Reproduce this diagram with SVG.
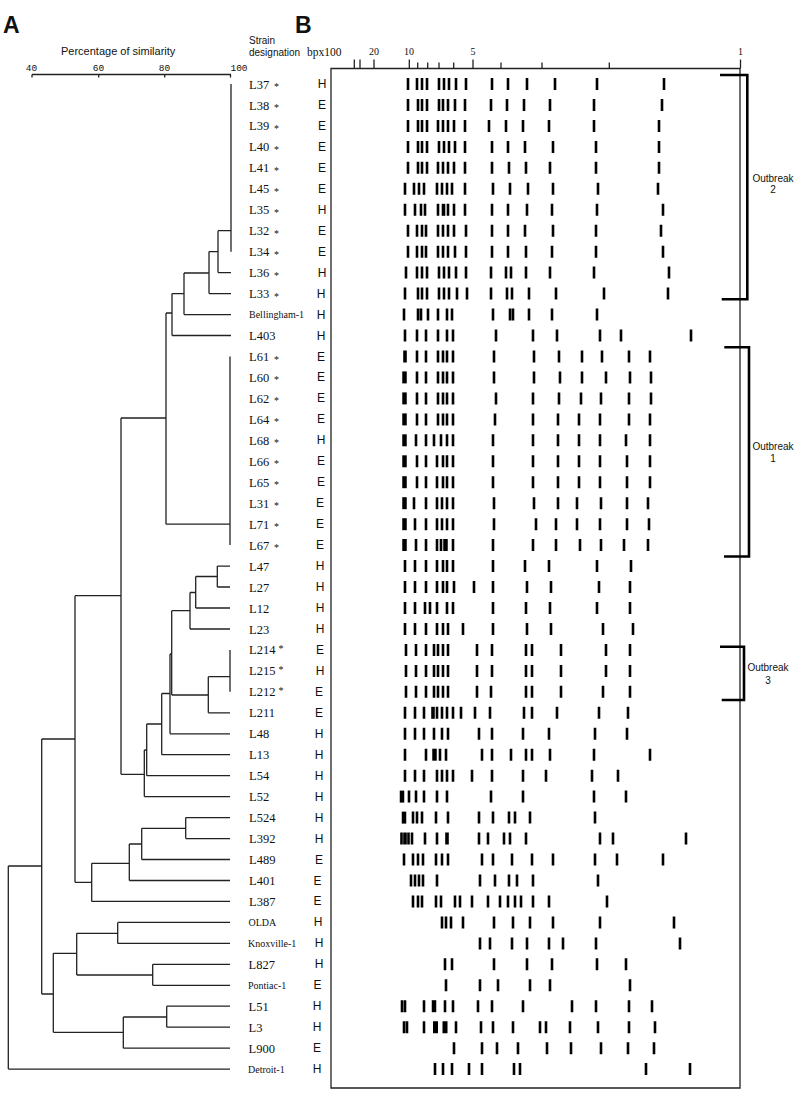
<svg xmlns="http://www.w3.org/2000/svg" width="800" height="1101" viewBox="0 0 800 1101">
<style>
text{fill:#111}
.big{font-family:"Liberation Sans",Arial,sans-serif;font-weight:bold;font-size:23px}
.hd{font-family:"Liberation Sans",Arial,sans-serif;font-size:10px}
.ttl{font-family:"Liberation Sans",Arial,sans-serif;font-size:11px}
.ax{font-family:"Liberation Mono","Courier New",monospace;font-size:9.5px;text-anchor:middle}
.gax{font-family:"Liberation Serif","Times New Roman",serif;font-size:10px;text-anchor:middle}
.bpx{font-family:"Liberation Serif","Times New Roman",serif;font-size:11.5px}
.lbl{font-family:"Liberation Serif","Times New Roman",serif;font-size:12.5px}
.sm{font-size:10px}
.st{font-size:10px}
.typ{font-family:"Liberation Sans",Arial,sans-serif;font-size:12px;text-anchor:middle}
.ob{font-family:"Liberation Sans",Arial,sans-serif;font-size:10px;text-anchor:middle}
.ln{fill:none;stroke:#222;stroke-width:1.3}
.bd{fill:none;stroke:#000;stroke-width:2.6}
.bdt{fill:none;stroke:#000;stroke-width:4.5}
.br{fill:none;stroke:#000;stroke-width:2.6}
</style>

<!-- headers -->
<text class="big" x="3" y="33">A</text>
<text class="big" x="295" y="33">B</text>
<text class="ttl" x="61" y="55">Percentage of similarity</text>
<text class="hd" x="249" y="44">Strain</text>
<text class="hd" x="249" y="56">designation</text>
<text class="bpx" x="307" y="55.5">bpx100</text>

<!-- similarity axis -->
<g id="axis-similarity">
<path class="ln" d="M32 74.5H231M32 74.5v3M98.7 74.5v3M164.7 74.5v3M230.5 74.5v3"/>
<text class="ax" x="31.5" y="71">40</text>
<text class="ax" x="98.5" y="71">60</text>
<text class="ax" x="164.5" y="71">80</text>
<text class="ax" x="239" y="71">100</text>
</g>

<!-- gel frame and size axis -->
<g id="gel-frame">
<path class="ln" d="M331 68.5H740V1088H331Z"/>
<path class="ln" d="M354.3 59.5v9M360 59.5v9M374 59.5v9M409.3 59.5v9M473 59.5v9M740.5 59.5v9M417.7 62.5v6M427.7 62.5v6M439 62.5v6M453.7 62.5v6M501 62.5v6M542 62.5v6M609.3 62.5v6"/>
<text class="gax" x="374" y="55">20</text>
<text class="gax" x="409" y="55">10</text>
<text class="gax" x="473" y="55">5</text>
<text class="gax" x="740.5" y="55">1</text>
</g>

<!-- dendrogram connectors -->
<g id="connectors">
<path class="ln" d="M231 84V251.7M218 230.7H231M218 272.6H231M218 230.7V272.6M209 251.6H218M209 293.6H231M209 251.6V293.6M184 273H209M184 314.6H231M184 273V314.6M172 293.6H184M172 335.5H231M172 293.6V335.5M166 313H172M166 313V524.2M230 356.5V545.1M166 524.2H230M121 418H166M121 418V774.3"/>
<path class="ln" d="M217.3 566.1V587M217.3 566.1H230M217.3 587H230M195.7 576.5H217.3M195.7 576.5V608M195.7 608H230M190 592.5H195.7M190 592.5V629M190 629H230M171.7 610.7H190M230 649.9V691.8M208.3 676.7H230M208.3 676.7V712.8M208.3 712.8H230M171.7 695H208.3M171.7 610.7V695M170 654H171.7M170 654V733.8M170 733.8H230M161.7 693.5H170M161.7 693.5V754.7M161.7 754.7H230M146.7 724H161.7M146.7 724V775.7M146.7 775.7H230M144.3 750H146.7M144.3 750V796.6M144.3 796.6H230M121 774.3H144.3"/>
<path class="ln" d="M75 595.7H121M75 595.7V882.3M185.7 817.6V838.6M185.7 817.6H230M185.7 838.6H230M141.7 828.3H185.7M141.7 828.3V859.5M141.7 859.5H230M129.3 844H141.7M129.3 844V880.5M129.3 880.5H230M91.7 863.3H129.3M91.7 863.3V901.4M91.7 901.4H230M75 882.3H91.7"/>
<path class="ln" d="M41.7 739H75M41.7 739V994M117.7 922.4V943.4M117.7 922.4H230M117.7 943.4H230M76.7 933.3H117.7M152.7 964.3V985.3M152.7 964.3H230M152.7 985.3H230M76.7 975H152.7M76.7 933.3V975M53.3 953.3H76.7M166.7 1006.2V1027.2M166.7 1006.2H230M166.7 1027.2H230M123.3 1017H166.7M123.3 1017V1048.2M123.3 1048.2H230M53.3 1032.3H123.3M53.3 953.3V1032.3M41.7 994H53.3M8.3 866H41.7M8.3 866V1069.1M8.3 1069.1H230"/>
</g>

<!-- outbreak brackets -->
<g id="outbreak-2">
<path class="br" d="M720 75H747.3V299.3H721.7"/>
<text class="ob" x="773" y="181.5">Outbreak</text>
<text class="ob" x="773" y="193">2</text>
</g>
<g id="outbreak-1">
<path class="br" d="M724.3 347.3H749V556.5H724"/>
<text class="ob" x="773" y="450">Outbreak</text>
<text class="ob" x="773" y="461.5">1</text>
</g>
<g id="outbreak-3">
<path class="br" d="M720 646.7H744V700H721.7"/>
<text class="ob" x="768" y="671">Outbreak</text>
<text class="ob" x="768" y="684">3</text>
</g>

<!-- strains -->
<g id="n-L37" transform="translate(0,84)"><text class="lbl" x="249" y="4.5">L37 <tspan class="st" x="274" y="6">*</tspan></text><text class="typ" x="322" y="4">H</text><path class="bd" d="M408-6v12M417-6v12M422-6v12M427-6v12M439-6v12M444-6v12M449-6v12M456-6v12M466-6v12M492-6v12M508-6v12M527-6v12M555-6v12M597-6v12M664-6v12"/></g>
<g id="n-L38" transform="translate(0,105)"><text class="lbl" x="249" y="4.5">L38 <tspan class="st" x="274" y="6">*</tspan></text><text class="typ" x="322" y="4">E</text><path class="bd" d="M408-6v12M418-6v12M422-6v12M427-6v12M439-6v12M443-6v12M448-6v12M455-6v12M465-6v12M491-6v12M507-6v12M524-6v12M550-6v12M594-6v12M662-6v12"/></g>
<g id="n-L39" transform="translate(0,125.9)"><text class="lbl" x="249" y="4.5">L39 <tspan class="st" x="274" y="6">*</tspan></text><text class="typ" x="322" y="4">E</text><path class="bd" d="M408-6v12M418-6v12M422-6v12M427-6v12M438-6v12M443-6v12M448-6v12M454-6v12M465-6v12M489-6v12M506-6v12M523-6v12M549-6v12M594-6v12M659-6v12"/></g>
<g id="n-L40" transform="translate(0,146.9)"><text class="lbl" x="249" y="4.5">L40 <tspan class="st" x="274" y="6">*</tspan></text><text class="typ" x="322" y="4">E</text><path class="bd" d="M408-6v12M418-6v12M422-6v12M427-6v12M439-6v12M444-6v12M449-6v12M455-6v12M465-6v12M492-6v12M508-6v12M525-6v12M553-6v12M596-6v12M659-6v12"/></g>
<g id="n-L41" transform="translate(0,167.8)"><text class="lbl" x="249" y="4.5">L41 <tspan class="st" x="274" y="6">*</tspan></text><text class="typ" x="322" y="4">E</text><path class="bd" d="M408-6v12M418-6v12M422-6v12M427-6v12M438-6v12M443-6v12M448-6v12M454-6v12M465-6v12M492-6v12M509-6v12M526-6v12M550-6v12M596-6v12M659-6v12"/></g>
<g id="n-L45" transform="translate(0,188.8)"><text class="lbl" x="249" y="4.5">L45 <tspan class="st" x="274" y="6">*</tspan></text><text class="typ" x="322" y="4">E</text><path class="bd" d="M405-6v12M414-6v12M419-6v12M424-6v12M437-6v12M442-6v12M447-6v12M452-6v12M465-6v12M493-6v12M510-6v12M528-6v12M553-6v12M598-6v12M658-6v12"/></g>
<g id="n-L35" transform="translate(0,209.8)"><text class="lbl" x="249" y="4.5">L35 <tspan class="st" x="274" y="6">*</tspan></text><text class="typ" x="322" y="4">H</text><path class="bd" d="M405-6v12M415-6v12M421-6v12M425-6v12M438-6v12M448-6v12M454-6v12M465-6v12M492-6v12M508-6v12M527-6v12M552-6v12M597-6v12M663-6v12"/><path class="bdt" d="M443.5-6v12" style="stroke-width:3.6"/></g>
<g id="n-L32" transform="translate(0,230.7)"><text class="lbl" x="249" y="4.5">L32 <tspan class="st" x="274" y="6">*</tspan></text><text class="typ" x="322" y="4">E</text><path class="bd" d="M408-6v12M417-6v12M422-6v12M426-6v12M438-6v12M443-6v12M448-6v12M454-6v12M466-6v12M492-6v12M508-6v12M525-6v12M553-6v12M596-6v12M661-6v12"/></g>
<g id="n-L34" transform="translate(0,251.7)"><text class="lbl" x="249" y="4.5">L34 <tspan class="st" x="274" y="6">*</tspan></text><text class="typ" x="322" y="4">E</text><path class="bd" d="M408-6v12M417-6v12M422-6v12M426-6v12M438-6v12M443-6v12M448-6v12M455-6v12M466-6v12M492-6v12M508-6v12M526-6v12M552-6v12M596-6v12M663-6v12"/></g>
<g id="n-L36" transform="translate(0,272.6)"><text class="lbl" x="249" y="4.5">L36 <tspan class="st" x="274" y="6">*</tspan></text><text class="typ" x="322" y="4">H</text><path class="bd" d="M406-6v12M417-6v12M422-6v12M427-6v12M439-6v12M444-6v12M449-6v12M456-6v12M466-6v12M491-6v12M506-6v12M511-6v12M526-6v12M550-6v12M594-6v12M669-6v12"/></g>
<g id="n-L33" transform="translate(0,293.6)"><text class="lbl" x="249" y="4.5">L33 <tspan class="st" x="274" y="6">*</tspan></text><text class="typ" x="321" y="4">H</text><path class="bd" d="M405-6v12M418-6v12M422-6v12M427-6v12M439-6v12M444-6v12M449-6v12M457-6v12M467-6v12M491-6v12M507-6v12M512-6v12M529-6v12M556-6v12M604-6v12M668-6v12"/></g>
<g id="n-Bellingham-1" transform="translate(0,314.6)"><text class="lbl sm" x="249" y="3.5">Bellingham-1</text><text class="typ" x="321" y="4">H</text><path class="bd" d="M404-6v12M418-6v12M421-6v12M428-6v12M438-6v12M447-6v12M452-6v12M493-6v12M510-6v12M513-6v12M529-6v12M552-6v12M597-6v12"/></g>
<g id="n-L403" transform="translate(0,335.5)"><text class="lbl" x="249" y="4.5">L403</text><text class="typ" x="321" y="4">H</text><path class="bd" d="M405-6v12M417-6v12M426-6v12M438-6v12M447-6v12M453-6v12M496-6v12M533-6v12M557-6v12M600-6v12M621-6v12M691-6v12"/></g>
<g id="n-L61" transform="translate(0,356.5)"><text class="lbl" x="249" y="4.5">L61 <tspan class="st" x="274" y="6">*</tspan></text><text class="typ" x="321" y="4">E</text><path class="bd" d="M417-6v12M426-6v12M438-6v12M443-6v12M447-6v12M453-6v12M494-6v12M534-6v12M559-6v12M582-6v12M602-6v12M629-6v12M650-6v12"/><path class="bdt" d="M405-6v12" style="stroke-width:3.6"/></g>
<g id="n-L60" transform="translate(0,377.4)"><text class="lbl" x="249" y="4.5">L60 <tspan class="st" x="274" y="6">*</tspan></text><text class="typ" x="321" y="4">E</text><path class="bd" d="M417-6v12M426-6v12M438-6v12M443-6v12M447-6v12M453-6v12M494-6v12M534-6v12M560-6v12M582-6v12M606-6v12M630-6v12M651-6v12"/><path class="bdt" d="M404.5-6v12"/></g>
<g id="n-L62" transform="translate(0,398.4)"><text class="lbl" x="249" y="4.5">L62 <tspan class="st" x="274" y="6">*</tspan></text><text class="typ" x="321" y="4">E</text><path class="bd" d="M417-6v12M426-6v12M438-6v12M443-6v12M447-6v12M453-6v12M496-6v12M533-6v12M559-6v12M581-6v12M601-6v12M629-6v12M651-6v12"/><path class="bdt" d="M404.5-6v12"/></g>
<g id="n-L64" transform="translate(0,419.4)"><text class="lbl" x="249" y="4.5">L64 <tspan class="st" x="274" y="6">*</tspan></text><text class="typ" x="321" y="4">E</text><path class="bd" d="M417-6v12M426-6v12M438-6v12M443-6v12M447-6v12M453-6v12M495-6v12M533-6v12M558-6v12M579-6v12M600-6v12M629-6v12M650-6v12"/><path class="bdt" d="M404.5-6v12"/></g>
<g id="n-L68" transform="translate(0,440.3)"><text class="lbl" x="249" y="4.5">L68 <tspan class="st" x="274" y="6">*</tspan></text><text class="typ" x="321" y="4">H</text><path class="bd" d="M416-6v12M426-6v12M434-6v12M441-6v12M447-6v12M453-6v12M493-6v12M533-6v12M558-6v12M579-6v12M600-6v12M626-6v12M650-6v12"/><path class="bdt" d="M404.5-6v12"/></g>
<g id="n-L66" transform="translate(0,461.3)"><text class="lbl" x="249" y="4.5">L66 <tspan class="st" x="274" y="6">*</tspan></text><text class="typ" x="321" y="4">E</text><path class="bd" d="M417-6v12M426-6v12M437-6v12M443-6v12M447-6v12M453-6v12M493-6v12M533-6v12M558-6v12M579-6v12M600-6v12M627-6v12M650-6v12"/><path class="bdt" d="M404.5-6v12"/></g>
<g id="n-L65" transform="translate(0,482.2)"><text class="lbl" x="249" y="4.5">L65 <tspan class="st" x="274" y="6">*</tspan></text><text class="typ" x="321" y="4">E</text><path class="bd" d="M417-6v12M426-6v12M437-6v12M443-6v12M447-6v12M453-6v12M493-6v12M533-6v12M558-6v12M579-6v12M600-6v12M627-6v12M650-6v12"/><path class="bdt" d="M404.5-6v12"/></g>
<g id="n-L31" transform="translate(0,503.2)"><text class="lbl" x="249" y="4.5">L31 <tspan class="st" x="274" y="6">*</tspan></text><text class="typ" x="320" y="4">E</text><path class="bd" d="M414-6v12M426-6v12M437-6v12M442-6v12M447-6v12M453-6v12M494-6v12M534-6v12M558-6v12M577-6v12M601-6v12M627-6v12M648-6v12"/><path class="bdt" d="M404.5-6v12"/></g>
<g id="n-L71" transform="translate(0,524.2)"><text class="lbl" x="249" y="4.5">L71 <tspan class="st" x="274" y="6">*</tspan></text><text class="typ" x="320" y="4">E</text><path class="bd" d="M415-6v12M426-6v12M437-6v12M442-6v12M447-6v12M453-6v12M494-6v12M536-6v12M556-6v12M577-6v12M600-6v12M627-6v12M649-6v12"/><path class="bdt" d="M404.5-6v12"/></g>
<g id="n-L67" transform="translate(0,545.1)"><text class="lbl" x="249" y="4.5">L67 <tspan class="st" x="274" y="6">*</tspan></text><text class="typ" x="320" y="4">E</text><path class="bd" d="M416-6v12M426-6v12M437-6v12M441-6v12M453-6v12M493-6v12M533-6v12M556-6v12M580-6v12M601-6v12M624-6v12M648-6v12"/><path class="bdt" d="M404.5-6v12M445.5-6v12"/></g>
<g id="n-L47" transform="translate(0,566.1)"><text class="lbl" x="249" y="4.5">L47</text><text class="typ" x="320" y="4">H</text><path class="bd" d="M405-6v12M415-6v12M426-6v12M437-6v12M443-6v12M447-6v12M453-6v12M493-6v12M525-6v12M549-6v12M597-6v12M631-6v12"/></g>
<g id="n-L27" transform="translate(0,587)"><text class="lbl" x="249" y="4.5">L27</text><text class="typ" x="320" y="4">H</text><path class="bd" d="M405-6v12M415-6v12M426-6v12M437-6v12M443-6v12M447-6v12M454-6v12M474-6v12M493-6v12M527-6v12M551-6v12M599-6v12M630-6v12"/></g>
<g id="n-L12" transform="translate(0,608)"><text class="lbl" x="249" y="4.5">L12</text><text class="typ" x="320" y="4">H</text><path class="bd" d="M405-6v12M415-6v12M425-6v12M430-6v12M437-6v12M447-6v12M453-6v12M493-6v12M526-6v12M550-6v12M597-6v12M630-6v12"/></g>
<g id="n-L23" transform="translate(0,629)"><text class="lbl" x="249" y="4.5">L23</text><text class="typ" x="320" y="4">H</text><path class="bd" d="M405-6v12M415-6v12M426-6v12M437-6v12M443-6v12M448-6v12M463-6v12M493-6v12M527-6v12M551-6v12M603-6v12M633-6v12"/></g>
<g id="n-L214" transform="translate(0,649.9)"><text class="lbl" x="249" y="4.5">L214<tspan class="st" x="278.5" y="2">*</tspan></text><text class="typ" x="320" y="4">E</text><path class="bd" d="M406-6v12M416-6v12M426-6v12M434-6v12M438-6v12M443-6v12M448-6v12M477-6v12M492-6v12M526-6v12M532-6v12M561-6v12M606-6v12M630-6v12"/></g>
<g id="n-L215" transform="translate(0,670.9)"><text class="lbl" x="249" y="4.5">L215<tspan class="st" x="278.5" y="2">*</tspan></text><text class="typ" x="320" y="4">H</text><path class="bd" d="M406-6v12M416-6v12M426-6v12M434-6v12M438-6v12M443-6v12M448-6v12M477-6v12M492-6v12M526-6v12M532-6v12M561-6v12M606-6v12M630-6v12"/></g>
<g id="n-L212" transform="translate(0,691.8)"><text class="lbl" x="249" y="4.5">L212<tspan class="st" x="278.5" y="2">*</tspan></text><text class="typ" x="319" y="4">E</text><path class="bd" d="M406-6v12M416-6v12M426-6v12M434-6v12M438-6v12M443-6v12M448-6v12M477-6v12M491-6v12M526-6v12M532-6v12M561-6v12M603-6v12M630-6v12"/></g>
<g id="n-L211" transform="translate(0,712.8)"><text class="lbl" x="249" y="4.5">L211</text><text class="typ" x="319" y="4">E</text><path class="bd" d="M405-6v12M415-6v12M424-6v12M437-6v12M442-6v12M447-6v12M453-6v12M461-6v12M475-6v12M490-6v12M524-6v12M532-6v12M557-6v12M599-6v12M628-6v12"/><path class="bdt" d="M433-6v12" style="stroke-width:3.6"/></g>
<g id="n-L48" transform="translate(0,733.8)"><text class="lbl" x="249" y="4.5">L48</text><text class="typ" x="319" y="4">H</text><path class="bd" d="M405-6v12M415-6v12M424-6v12M434-6v12M442-6v12M448-6v12M479-6v12M492-6v12M523-6v12M549-6v12M595-6v12M627-6v12"/></g>
<g id="n-L13" transform="translate(0,754.7)"><text class="lbl" x="249" y="4.5">L13</text><text class="typ" x="319" y="4">H</text><path class="bd" d="M405-6v12M426-6v12M440-6v12M446-6v12M482-6v12M492-6v12M511-6v12M526-6v12M532-6v12M550-6v12M594-6v12M650-6v12"/><path class="bdt" d="M434.5-6v12"/></g>
<g id="n-L54" transform="translate(0,775.7)"><text class="lbl" x="249" y="4.5">L54</text><text class="typ" x="319" y="4">H</text><path class="bd" d="M405-6v12M415-6v12M424-6v12M437-6v12M442-6v12M447-6v12M453-6v12M472-6v12M492-6v12M523-6v12M546-6v12M592-6v12M618-6v12"/></g>
<g id="n-L52" transform="translate(0,796.6)"><text class="lbl" x="249" y="4.5">L52</text><text class="typ" x="319" y="4">H</text><path class="bd" d="M409-6v12M416-6v12M424-6v12M437-6v12M447-6v12M491-6v12M523-6v12M594-6v12M626-6v12"/><path class="bdt" d="M402-6v12"/></g>
<g id="n-L524" transform="translate(0,817.6)"><text class="lbl" x="249" y="4.5">L524</text><text class="typ" x="319" y="4">H</text><path class="bd" d="M413-6v12M417-6v12M422-6v12M436-6v12M448-6v12M479-6v12M493-6v12M509-6v12M515-6v12M530-6v12M595-6v12"/><path class="bdt" d="M404-6v12"/></g>
<g id="n-L392" transform="translate(0,838.6)"><text class="lbl" x="249" y="4.5">L392</text><text class="typ" x="319" y="4">H</text><path class="bd" d="M401.5-6v12M408.5-6v12M412-6v12M425-6v12M437-6v12M479-6v12M488-6v12M504-6v12M510-6v12M526-6v12M600-6v12M613-6v12M686-6v12"/><path class="bdt" d="M405-6v12M447-6v12" style="stroke-width:3.6"/></g>
<g id="n-L489" transform="translate(0,859.5)"><text class="lbl" x="249" y="4.5">L489</text><text class="typ" x="319" y="4">E</text><path class="bd" d="M404-6v12M413-6v12M418-6v12M423-6v12M436-6v12M442-6v12M448-6v12M482-6v12M493-6v12M512-6v12M532-6v12M553-6v12M595-6v12M617-6v12M663-6v12"/></g>
<g id="n-L401" transform="translate(0,880.5)"><text class="lbl" x="249" y="4.5">L401</text><text class="typ" x="317.5" y="4">E</text><path class="bd" d="M411-6v12M415-6v12M419-6v12M423-6v12M437-6v12M480-6v12M495-6v12M509-6v12M517-6v12M533-6v12M598-6v12"/></g>
<g id="n-L387" transform="translate(0,901.4)"><text class="lbl" x="249" y="4.5">L387</text><text class="typ" x="317.5" y="4">E</text><path class="bd" d="M413-6v12M418-6v12M422-6v12M436-6v12M441-6v12M455-6v12M460-6v12M472-6v12M488-6v12M500-6v12M508-6v12M515-6v12M521-6v12M533-6v12M549-6v12M607-6v12"/></g>
<g id="n-OLDA" transform="translate(0,922.4)"><text class="lbl sm" x="248.5" y="3.5">OLDA</text><text class="typ" x="318" y="4">H</text><path class="bd" d="M442-6v12M446-6v12M451-6v12M463-6v12M494-6v12M513-6v12M530-6v12M553-6v12M600-6v12M674-6v12"/></g>
<g id="n-Knoxville-1" transform="translate(0,943.4)"><text class="lbl sm" x="248" y="3.5">Knoxville-1</text><text class="typ" x="319" y="4">H</text><path class="bd" d="M480-6v12M490-6v12M512-6v12M527-6v12M549-6v12M563-6v12M596-6v12M680-6v12"/></g>
<g id="n-L827" transform="translate(0,964.3)"><text class="lbl" x="248.5" y="4.5">L827</text><text class="typ" x="319" y="4">H</text><path class="bd" d="M445-6v12M452-6v12M494-6v12M527-6v12M552-6v12M597-6v12M626-6v12"/></g>
<g id="n-Pontiac-1" transform="translate(0,985.3)"><text class="lbl sm" x="248" y="3.5">Pontiac-1</text><text class="typ" x="317.5" y="4">E</text><path class="bd" d="M446-6v12M480-6v12M498-6v12M530-6v12M550-6v12M630-6v12"/></g>
<g id="n-L51" transform="translate(0,1006.2)"><text class="lbl" x="248.5" y="4.5">L51</text><text class="typ" x="317" y="4">H</text><path class="bd" d="M402-6v12M405-6v12M424-6v12M445-6v12M453-6v12M478-6v12M492-6v12M523-6v12M572-6v12M596-6v12M629-6v12M652-6v12"/><path class="bdt" d="M434-6v12"/></g>
<g id="n-L3" transform="translate(0,1027.2)"><text class="lbl" x="248.5" y="4.5">L3</text><text class="typ" x="317" y="4">H</text><path class="bd" d="M404-6v12M407-6v12M424-6v12M456-6v12M481-6v12M493-6v12M513-6v12M540-6v12M546-6v12M570-6v12M598-6v12M629-6v12M655-6v12"/><path class="bdt" d="M435.5-6v12M445-6v12" style="stroke-width:5"/></g>
<g id="n-L900" transform="translate(0,1048.2)"><text class="lbl" x="248.5" y="4.5">L900</text><text class="typ" x="317" y="4">E</text><path class="bd" d="M454-6v12M482-6v12M497-6v12M518-6v12M547-6v12M571-6v12M601-6v12M628-6v12M654-6v12"/></g>
<g id="n-Detroit-1" transform="translate(0,1069.1)"><text class="lbl sm" x="248" y="3.5">Detroit-1</text><text class="typ" x="317" y="4">H</text><path class="bd" d="M435-6v12M443-6v12M452-6v12M469-6v12M482-6v12M514-6v12M520-6v12M646-6v12M690-6v12"/></g>
</svg>
